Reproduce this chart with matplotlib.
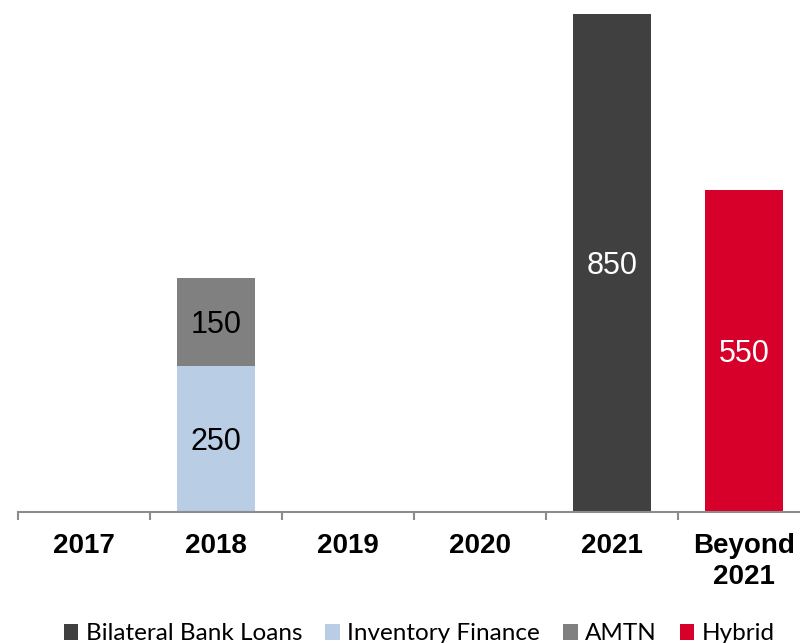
import matplotlib.pyplot as plt
import numpy as np
from matplotlib.patches import Patch

# Datos
categorias = ["2017", "2018", "2019", "2020", "2021", "Beyond\n2021"]
bilateral = [0, 0, 0, 0, 850, 0]
inventario = [0, 250, 0, 0, 0, 0]
amtn = [0, 150, 0, 0, 0, 0]
hibrido = [0, 0, 0, 0, 0, 550]

series = ["Bilateral Bank Loans", "Inventory Finance", "AMTN", "Hybrid"]
colores = ["#404040", "#B9CDE5", "#808080", "#D7002A"]
color_texto = ["white", "black", "black", "white"]

fig = plt.figure(figsize=(8, 6.43), dpi=100)
# El eje se sale un poco por la derecha, como en el original
ax = fig.add_axes([18 / 800, 131 / 643, 792 / 800, 498 / 643])

x = np.arange(len(categorias))
base = np.zeros(len(categorias))
for datos, col, ct in zip([bilateral, inventario, amtn, hibrido], colores, color_texto):
    datos = np.array(datos, dtype=float)
    barras = ax.bar(x, datos, width=0.59, bottom=base, color=col)
    for b, v in zip(barras, datos):
        if v > 0:
            ax.text(b.get_x() + b.get_width() / 2, b.get_y() + v / 2, f"{v:.0f}",
                    ha="center", va="center_baseline", color=ct, fontsize=22,
                    family="Liberation Sans")
    base += datos

ax.set_xlim(-0.5, len(categorias) - 0.5)
ax.set_ylim(0, 850)
ax.set_yticks([])
for lado in ["top", "right", "left"]:
    ax.spines[lado].set_visible(False)
ax.spines["bottom"].set_color("#8C8C8C")
ax.spines["bottom"].set_linewidth(1.5)

ax.set_xticks(x)
ax.set_xticklabels(categorias, fontsize=20, fontweight="bold",
                   family="Liberation Sans", linespacing=1.25)
ax.tick_params(axis="x", which="major", length=0, pad=15)
ax.set_xticks(np.arange(len(categorias) + 1) - 0.5, minor=True)
ax.tick_params(axis="x", which="minor", length=6, width=1.5, color="#8C8C8C")

manijas = [Patch(facecolor=c) for c in colores]
fig.legend(manijas, series, loc="center", bbox_to_anchor=(0.524, 0.014),
           ncol=4, frameon=False, prop={"family": "Lato", "size": 17.5},
           handlelength=0.6, handleheight=0.6, handletextpad=0.3,
           columnspacing=0.95, borderpad=0)

fig.savefig("out.png", dpi=100)
